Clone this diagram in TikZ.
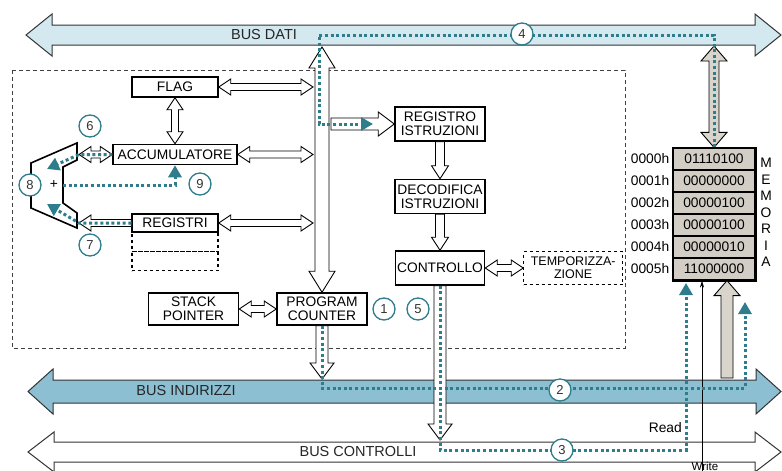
\documentclass[tikz,border=0pt]{standalone}
\usepackage{fontspec}
\setmainfont{Liberation Sans}
\usepackage{xcolor}
\usetikzlibrary{arrows.meta,calc,positioning}

\definecolor{flowc}{HTML}{2E7D8C}
\definecolor{datic}{HTML}{D3E8EF}
\definecolor{indc}{HTML}{8DBFD2}
\definecolor{memgray}{HTML}{D2CEC6}
\definecolor{arrgray}{HTML}{D9D5CC}

% hollow block arrow, head at the second point
\newcommand{\blockone}[3][]{%
  \path[#1] (#2) coordinate (ba) (#3) coordinate (bb) ($(bb)!\bhl!(ba)$) coordinate (bh);
  \draw[#1] ($(ba)!\bsw!90:(bb)$) -- ($(bh)!\bsw!90:(bb)$) -- ($(bh)!\bhw!90:(bb)$) -- (bb)
    -- ($(bh)!\bhw!-90:(bb)$) -- ($(bh)!\bsw!-90:(bb)$) -- ($(ba)!\bsw!-90:(bb)$) -- cycle;}
% hollow block arrow, heads at both points
\newcommand{\blocktwo}[3][]{%
  \path[#1] (#2) coordinate (ba) (#3) coordinate (bb) ($(ba)!\bhl!(bb)$) coordinate (bh) ($(bb)!\bhl!(ba)$) coordinate (bk);
  \draw[#1] (ba) -- ($(bh)!\bhw!90:(bb)$) -- ($(bh)!\bsw!90:(bb)$) -- ($(bk)!\bsw!90:(bb)$) -- ($(bk)!\bhw!90:(bb)$) -- (bb)
    -- ($(bk)!\bhw!-90:(bb)$) -- ($(bk)!\bsw!-90:(bb)$) -- ($(bh)!\bsw!-90:(bb)$) -- ($(bh)!\bhw!-90:(bb)$) -- cycle;}

\begin{document}
\begin{tikzpicture}[x=1pt, y=-1pt, font=\fontsize{13.8}{14}\selectfont, line join=miter]
\tikzstyle{unit} = [draw, line width=1.5pt, fill=white, inner sep=0pt, align=center, minimum width=90pt, minimum height=34pt]
\tikzstyle{spare} = [draw, dashed, line width=1.2pt, minimum width=86pt, minimum height=19pt, inner sep=0pt, outer sep=0pt]
\tikzstyle{cell} = [draw, line width=1.2pt, fill=memgray, minimum width=82pt, minimum height=22pt, inner sep=0pt]
\tikzstyle{badge} = [circle, draw=flowc, line width=1.3pt, fill=white, minimum size=22pt, inner sep=0pt, font=\fontsize{13}{13}\selectfont, text=black!80]
\tikzstyle{buslabel} = [inner sep=1pt, text=black!85, font=\fontsize{14.5}{15}\selectfont]
\tikzstyle{flow} = [draw=flowc, line width=3pt, dash pattern=on 3pt off 2.6pt, -{Triangle[width=13pt,length=12pt]}]
\tikzstyle{thinarr} = [draw, fill=white, line width=0.9pt, /utils/exec={\def\bsw{3.5pt}\def\bhw{8pt}\def\bhl{12pt}}]
\tikzstyle{vertarr} = [draw, fill=white, line width=0.9pt, /utils/exec={\def\bsw{4.5pt}\def\bhw{8.5pt}\def\bhl{13pt}}]
\tikzstyle{midarr} = [draw, fill=white, line width=0.9pt, /utils/exec={\def\bsw{6pt}\def\bhw{12pt}\def\bhl{16pt}}]
\tikzstyle{ibusarr} = [draw, fill=white, line width=0.9pt, /utils/exec={\def\bsw{7pt}\def\bhw{13pt}\def\bhl{21pt}}]
\tikzstyle{grayarr} = [draw, fill=arrgray, line width=0.9pt, /utils/exec={\def\bsw{5pt}\def\bhw{13pt}\def\bhl{15pt}}]
\tikzstyle{upgrayarr} = [draw, fill=arrgray, line width=0.9pt, /utils/exec={\def\bsw{6pt}\def\bhw{13pt}\def\bhl{15pt}}]
\tikzstyle{datibus} = [draw=black!80, fill=datic, line width=1pt, /utils/exec={\def\bsw{10pt}\def\bhw{21pt}\def\bhl{26pt}}]
\tikzstyle{indbus} = [draw=black!80, fill=indc, line width=1pt, /utils/exec={\def\bsw{11.5pt}\def\bhw{22.5pt}\def\bhl{25pt}}]
\tikzstyle{ctlbus} = [draw=black!80, fill=white, line width=1pt, /utils/exec={\def\bsw{10pt}\def\bhw{20pt}\def\bhl{26pt}}]
\useasboundingbox (0,0) rectangle (782,471);

% buses
\coordinate (datil) at (26,35);
\coordinate (datir) at (781,35);
\coordinate (indl) at (28,391.5);
\coordinate (indr) at (781,391.5);
\coordinate (ctll) at (28,452);
\coordinate (ctlr) at (781,452);
\blocktwo[datibus]{datil}{datir}
\blocktwo[indbus]{indl}{indr}
\blocktwo[ctlbus]{ctll}{ctlr}

% cpu
\draw[dash pattern=on 4pt off 3pt, line width=0.8pt, black!75] (12,70) rectangle (625,348);

% units
\node (flag) [unit, minimum width=86pt, minimum height=20pt] at (175,87) {FLAG};
\node (acc) [unit, minimum width=124pt, minimum height=20pt, below=46pt of flag] {ACCUMULATORE};
\node (reg) [unit, minimum width=86pt, minimum height=18pt, below=48pt of acc] {REGISTRI};
\node (reg2) [spare, below=0pt of reg] {};
\node (reg3) [spare, below=0pt of reg2] {};
\node (ir) [unit] at (440,124) {REGISTRO\\ISTRUZIONI};
\node (dec) [unit, below=37pt of ir] {DECODIFICA\\ISTRUZIONI};
\node (ctrl) [unit, minimum width=89pt, below=36pt of dec] {CONTROLLO};
\node (temp) [unit, dashed, line width=0.8pt, minimum width=99pt, minimum height=33pt, right=38pt of ctrl, font=\fontsize{12.5}{13}\selectfont] {TEMPORIZZA-\\ZIONE};
\node (pc) [unit, minimum height=32pt] at (322,309) {PROGRAM\\COUNTER};
\node (sp) [unit, minimum height=32pt, left=37pt of pc] {STACK\\POINTER};

% alu
\draw[line width=1.6pt, fill=white] (77,143) -- (31,163) -- (31,208) -- (77,228) -- (77,213) -- (63,203) -- (63,167) -- (77,160) -- cycle;
\node (plus) at (54,185) {+};

% memory
\foreach \val [count=\i from 0] in {01110100,00000000,00000100,00000100,00000010,11000000} {
  \node (cell\i) [cell] at (714,159+22*\i) {\val};
  \node [anchor=east, inner sep=0pt, xshift=-3pt] at (cell\i.west) {000\i h};
}
\draw[line width=1.8pt] (cell0.north west) rectangle (cell5.south east);
\foreach \ch [count=\k from 0] in {M,E,M,O,R,I,A}
  \node at (766,163+16.5*\k) {\ch};

% internal connections
\coordinate (ibtop) at (322,47);
\coordinate (ibl) at (313,0);
\coordinate (ibr) at (331,0);
\coordinate (alutop) at (79,0);
\coordinate (indtop) at (0,379);
\coordinate (ctltop) at (0,440);
\blocktwo[thinarr]{flag.east}{flag.east -| ibl}
\blocktwo[thinarr]{acc.east}{acc.east -| ibl}
\blocktwo[thinarr]{reg.east}{reg.east -| ibl}
\blocktwo[thinarr]{flag.south}{acc.north}
\blocktwo[thinarr]{acc.west}{acc.west -| alutop}
\blockone[thinarr]{reg.west}{reg.west -| alutop}
\blocktwo[ibusarr]{ibtop}{pc.north}
\blockone[midarr]{ir.west -| ibr}{ir.west}
\blockone[vertarr]{ir.south}{dec.north}
\blockone[vertarr]{dec.south}{ctrl.north}
\blocktwo[thinarr]{ctrl.east}{temp.west}
\blocktwo[thinarr]{sp.east}{pc.west}
\blockone[midarr]{pc.south}{pc.south |- indtop}
\blockone[midarr]{ctrl.south}{ctrl.south |- ctltop}

% memory connections
\coordinate (datibot) at (0,46);
\coordinate (upfoot) at (727,378);
\coordinate (wfoot) at (702,480);
\blocktwo[grayarr]{cell0.north |- datibot}{cell0.north}
\blockone[upgrayarr]{upfoot}{upfoot |- cell5.south}
\draw[-{Stealth[length=7pt,width=4pt]}, line width=0.6pt] (wfoot) -- (wfoot |- cell5.south);
\node (read) [anchor=east, inner sep=0pt] at (682,428) {Read};
\node (write) [anchor=base, inner sep=0pt, font=\fontsize{11.5}{12}\selectfont] at (705,470) {Write};

% flows
\coordinate (d1) at (319,35);
\coordinate (irtip) at (373,0);
\coordinate (a1) at (745,388);
\coordinate (a2) at (745,302);
\coordinate (c1) at (686,450);
\coordinate (c2) at (686,283);
\coordinate (aluh1) at (47,169);
\coordinate (aluh2) at (47,204);
\coordinate (sum) at (63,185);
\draw[flow] (cell0.north) |- (d1) -- (d1 |- ir.west) -- (ir.west -| irtip);
\draw[flow] (pc.south) |- (a1) -- (a2);
\draw[flow] (ctrl.south) |- (c1) -- (c2);
\draw[flow] (acc.west) -- (acc.west -| alutop) -- (aluh1);
\draw[flow] (reg.west) -- (reg.west -| alutop) -- (aluh2);
\draw[flow] (sum) -| (acc.south);

% steps
\node (n1) [badge] at (384,309) {1};
\node (n5) [badge] at (418,309) {5};
\node (n2) [badge] at (560,390) {2};
\node (n3) [badge] at (562,450) {3};
\node (n4) [badge] at (522,34) {4};
\node (n6) [badge] at (90,126) {6};
\node (n7) [badge] at (90,245) {7};
\node (n8) [badge] at (30,185) {8};
\node (n9) [badge] at (200,184) {9};

% bus labels
\node (datilab) [buslabel] at (264,35) {BUS DATI};
\node (indlab) [buslabel] at (186,391) {BUS INDIRIZZI};
\node (ctllab) [buslabel] at (358,452) {BUS CONTROLLI};
\end{tikzpicture}
\end{document}
